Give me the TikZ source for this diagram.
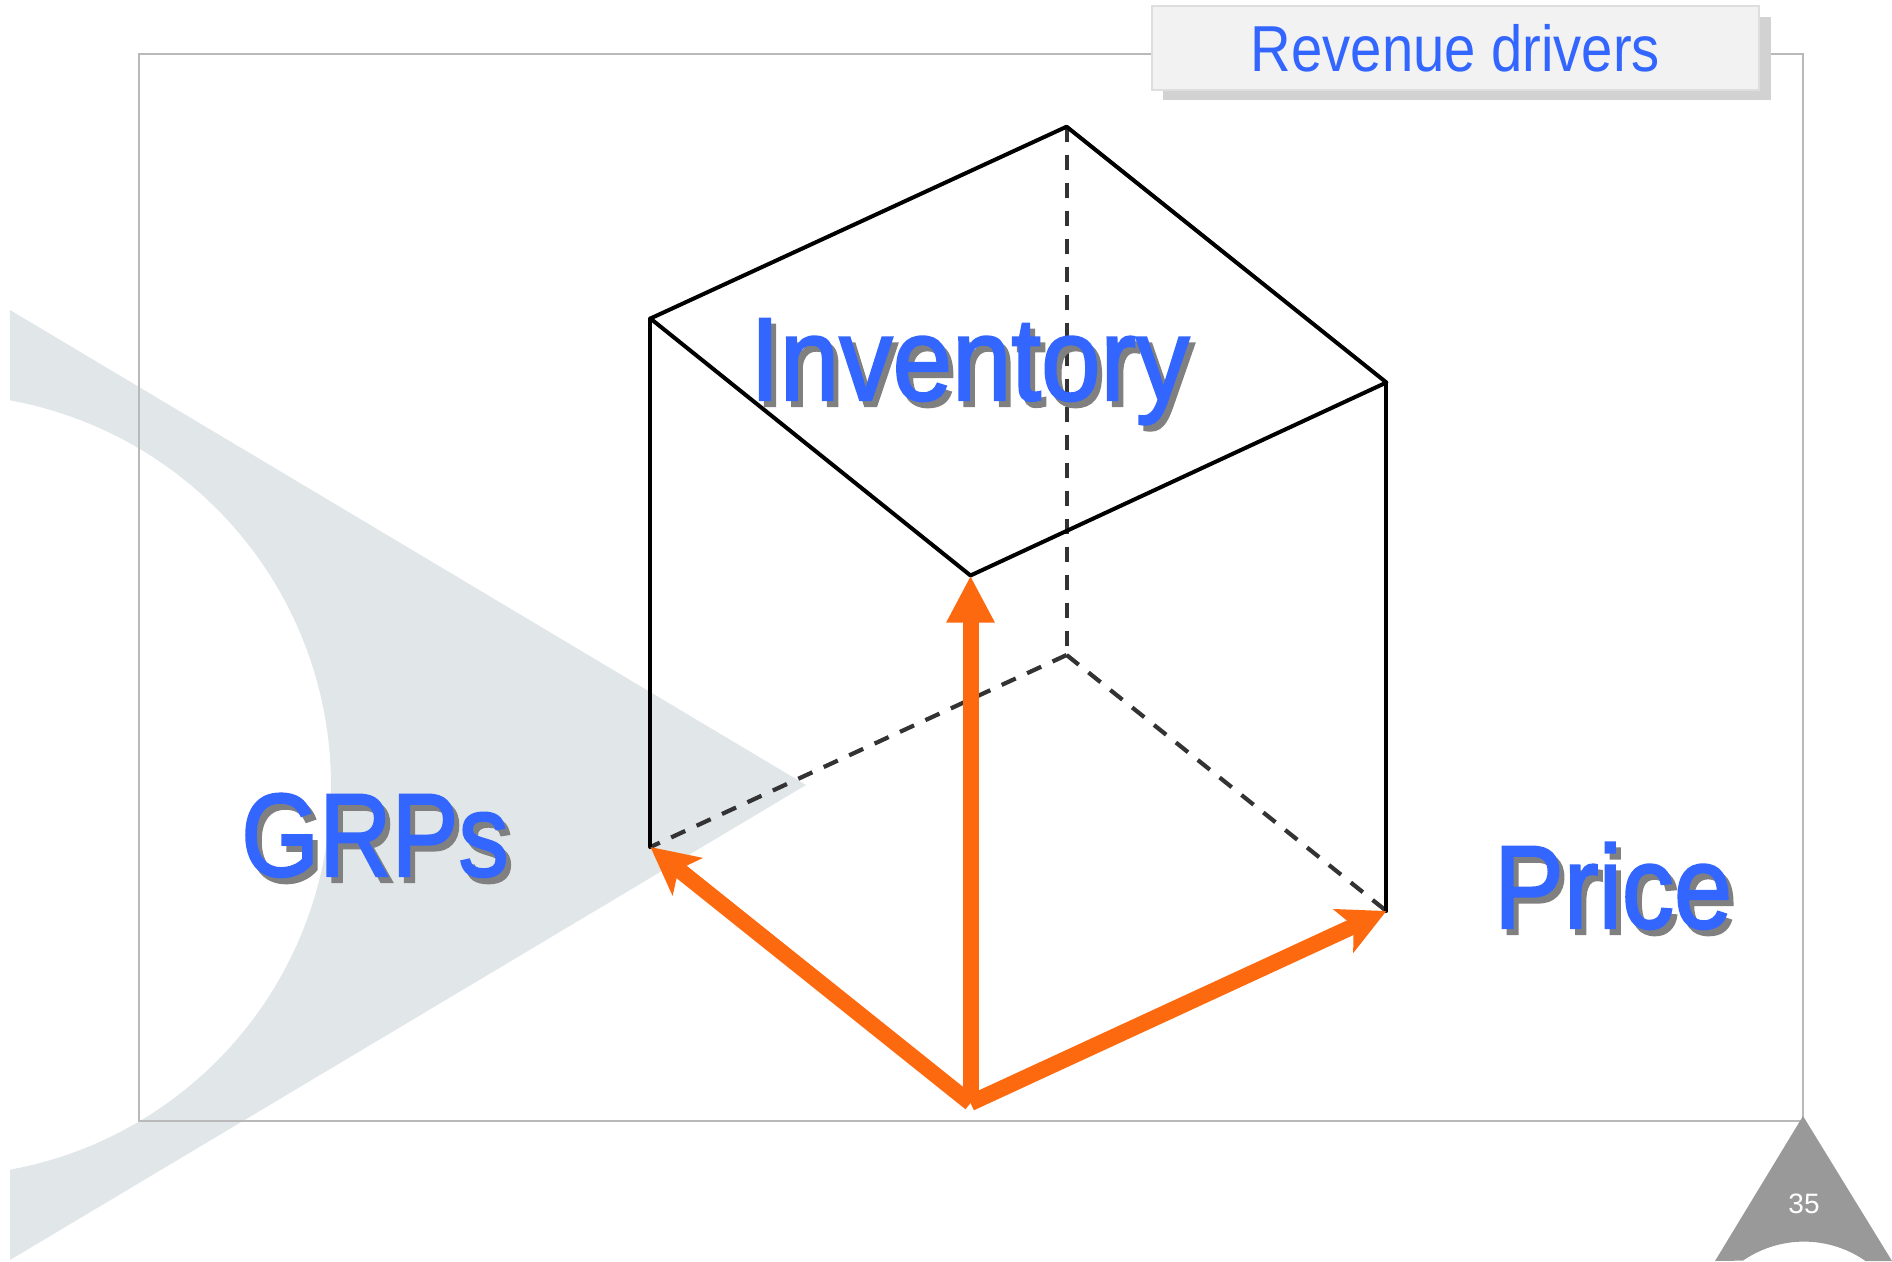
\documentclass[tikz,border=0pt]{standalone}
\usepackage{fontspec}
\usepackage{graphicx}
\usetikzlibrary{arrows.meta}
\setmainfont{Liberation Sans}
\newfontfamily\heavyfont[FakeBold=2.0]{Liberation Sans}
\definecolor{wedgegrey}{HTML}{E1E6E9}
\definecolor{framegrey}{HTML}{B9B9B9}
\definecolor{bluetext}{HTML}{3366FF}
\definecolor{shadowgrey}{HTML}{808080}
\definecolor{arroworange}{HTML}{FD690F}
\definecolor{dashdark}{HTML}{333333}
\definecolor{tabfill}{HTML}{F2F2F2}
\definecolor{tabedge}{HTML}{DEDEDE}
\definecolor{tabshadow}{HTML}{D2D2D2}
\definecolor{cornergrey}{HTML}{999999}
\newcommand{\bigword}[2]{\scalebox{#1}[1]{\heavyfont\fontsize{118}{118}\selectfont #2}}
\tikzset{
  x=1pt,y=-1pt,
  solidedge/.style={draw=black,line width=4pt,line cap=round,line join=round},
  hiddenedge/.style={draw=dashdark,line width=4.2pt,dash pattern=on 15.5pt off 12.5pt},
  driverarrow/.style={draw=arroworange,line width=16pt,-{Stealth[length=47pt,width=47pt,inset=11pt,fill=arroworange]}},
  driverarrowflat/.style={draw=arroworange,line width=16pt,-{Stealth[length=47pt,width=45pt,inset=0pt,fill=arroworange]}},
  bigblue/.style={anchor=base west,inner sep=0pt,text=bluetext},
  bigshade/.style={anchor=base west,inner sep=0pt,text=shadowgrey},
}
\begin{document}
\begin{tikzpicture}
\useasboundingbox (0,0) rectangle (1892,1261);
% background wedge
\fill[wedgegrey] (10,310) -- (806,785) -- (10,1260) -- (10,1172)
  -- plot[domain=79.7:-79.7,samples=90] ({-60+391*cos(\x)},{785+391*sin(\x)}) -- cycle;
% frame
\draw[framegrey,line width=2pt] (139,54) rectangle (1803,1121);
% corner triangle
\fill[cornergrey] (1803,1116) -- (1892,1261) -- (1865,1261)
  -- plot[domain=34.6:-34.6,samples=40] ({1804+107.4*sin(\x)},{1349-107.4*cos(\x)})
  -- (1715,1261) -- cycle;
\node[inner sep=0pt,text=white] (pagenum) at (1804,1204) {\fontsize{28}{28}\selectfont 35};
% title tab
\fill[tabshadow] (1163,17) rectangle (1771,100);
\node[draw=tabedge,fill=tabfill,line width=2pt,minimum width=607pt,minimum height=84pt,inner sep=0pt,text=bluetext] (tab) at (1455.5,48)
  {\scalebox{.865}[1]{\fontsize{65}{65}\selectfont Revenue drivers}};
% cube corners
\coordinate (T) at (1066.6,126.7);
\coordinate (LT) at (650.4,318.5);
\coordinate (RT) at (1386.4,382.5);
\coordinate (FM) at (970.5,575.5);
\coordinate (LB) at (650.4,847);
\coordinate (RB) at (1386.4,911);
\coordinate (BB) at (1066.6,655);
\coordinate (FB) at (970.5,1103);
% hidden edges
\draw[hiddenedge] (T) -- (BB);
\draw[hiddenedge] (BB) -- (LB);
\draw[hiddenedge] (BB) -- (RB);
% visible edges
\draw[solidedge] (T) -- (LT) -- (FM) -- (RT) -- cycle;
\draw[solidedge] (LT) -- (LB);
\draw[solidedge] (RT) -- (RB);
% arrows
\draw[driverarrow] (FB) -- (LB);
\draw[driverarrow] (FB) -- (RB);
\draw[driverarrowflat] (FB) -- (FM);
% labels
\node[bigshade] (invS) at (755,406) {\bigword{.905}{Inventory}};
\node[bigblue] (inv) at (750,400) {\bigword{.905}{Inventory}};
\node[bigshade] (grpS) at (246,882) {\bigword{.85}{GRPs}};
\node[bigblue] (grp) at (241,876) {\bigword{.85}{GRPs}};
\node[bigshade] (priS) at (1499,934) {\bigword{.885}{Price}};
\node[bigblue] (pri) at (1494,928) {\bigword{.885}{Price}};
\end{tikzpicture}
\end{document}
